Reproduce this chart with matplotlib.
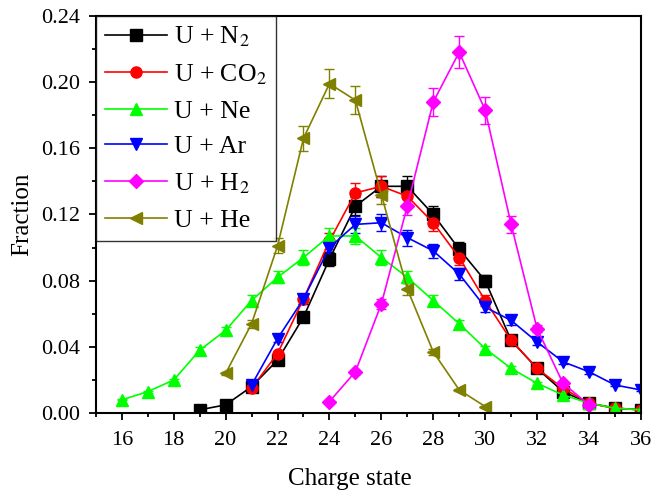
import matplotlib
matplotlib.use("Agg")
import matplotlib.pyplot as plt
from matplotlib.ticker import MultipleLocator

plt.rcParams['font.family'] = 'Liberation Serif'
plt.rcParams['mathtext.fontset'] = 'stix'

# charge states and fractions
q_n2 = [19, 20, 21, 22, 23, 24, 25, 26, 27, 28, 29, 30, 31, 32, 33, 34, 35, 36]
f_n2 = [0.002, 0.005, 0.016, 0.032, 0.058, 0.093, 0.125, 0.137, 0.137, 0.120,
        0.099, 0.080, 0.044, 0.027, 0.013, 0.006, 0.003, 0.002]

q_co2 = [21, 22, 23, 24, 25, 26, 27, 28, 29, 30, 31, 32, 33, 34, 35, 36]
f_co2 = [0.015, 0.036, 0.069, 0.104, 0.133, 0.137, 0.131, 0.115, 0.094, 0.068,
         0.044, 0.027, 0.015, 0.006, 0.003, 0.002]

q_ne = [16, 17, 18, 19, 20, 21, 22, 23, 24, 25, 26, 27, 28, 29, 30, 31, 32, 33, 34, 35, 36]
f_ne = [0.008, 0.013, 0.020, 0.038, 0.050, 0.068, 0.082, 0.094, 0.107, 0.107,
        0.094, 0.082, 0.068, 0.054, 0.039, 0.027, 0.018, 0.011, 0.006, 0.003, 0.002]

q_ar = [21, 22, 23, 24, 25, 26, 27, 28, 29, 30, 31, 32, 33, 34, 35, 36]
f_ar = [0.017, 0.045, 0.069, 0.100, 0.114, 0.115, 0.106, 0.098, 0.084, 0.064,
        0.056, 0.043, 0.031, 0.025, 0.017, 0.014]

q_h2 = [24, 25, 26, 27, 28, 29, 30, 31, 32, 33, 34]
f_h2 = [0.007, 0.025, 0.066, 0.125, 0.188, 0.218, 0.183, 0.114, 0.051, 0.018, 0.005]

q_he = [20, 21, 22, 23, 24, 25, 26, 27, 28, 29, 30]
f_he = [0.024, 0.054, 0.101, 0.166, 0.199, 0.189, 0.132, 0.075, 0.037, 0.014, 0.004]

relErr = 0.045  # approximate relative error bar size

series = [
    (q_n2, f_n2, 'black', 's', r'U + N$_2$'),
    (q_co2, f_co2, 'red', 'o', r'U + CO$_2$'),
    (q_ne, f_ne, '#00ff00', '^', 'U + Ne'),
    (q_ar, f_ar, 'blue', 'v', 'U + Ar'),
    (q_h2, f_h2, '#ff00ff', 'D', r'U + H$_2$'),
    (q_he, f_he, '#808000', '<', 'U + He'),
]

fig = plt.figure(figsize=(6.52, 4.93), dpi=100)
ax = fig.add_axes([0.147, 0.162, 0.836, 0.806])

handles = []
for q, f, color, marker, label in series:
    cont = ax.errorbar(q, f, yerr=[v * relErr for v in f], color=color, marker=marker,
                       markersize=8 if marker != 'D' else 7, linewidth=1.2,
                       elinewidth=1.0, capsize=3.5, capthick=1.0, label=label)
    handles.append(cont[0])

ax.set_xlim(15, 36)
ax.set_ylim(0, 0.24)
ax.xaxis.set_major_locator(MultipleLocator(2))
ax.xaxis.set_minor_locator(MultipleLocator(1))
ax.yaxis.set_major_locator(MultipleLocator(0.04))
ax.yaxis.set_minor_locator(MultipleLocator(0.02))
ax.set_xticks(range(16, 37, 2))
ax.set_yticklabels([f'{v:.2f}' for v in ax.get_yticks()])
ax.tick_params(which='both', direction='out', top=False, right=False, labelsize=16, width=1.3)
ax.tick_params(which='major', length=5)
ax.tick_params(which='minor', length=3)
ax.tick_params(axis='x', pad=8)
ax.tick_params(axis='y', pad=6)
for s in ax.spines.values():
    s.set_linewidth(1.5)

ax.set_xlabel('Charge state', fontsize=18, labelpad=13)
ax.xaxis.label.set_x(0.466)
ax.set_ylabel('Fraction', fontsize=18, labelpad=6)

leg = ax.legend(handles, [s[4] for s in series], loc='upper left', fontsize=18.5,
                frameon=True, fancybox=False, edgecolor='black', handlelength=2.4,
                borderaxespad=0.0, labelspacing=0.5, handletextpad=0.3, borderpad=0.35)
leg.get_frame().set_linewidth(1.0)

fig.savefig('out.png', dpi=100)
